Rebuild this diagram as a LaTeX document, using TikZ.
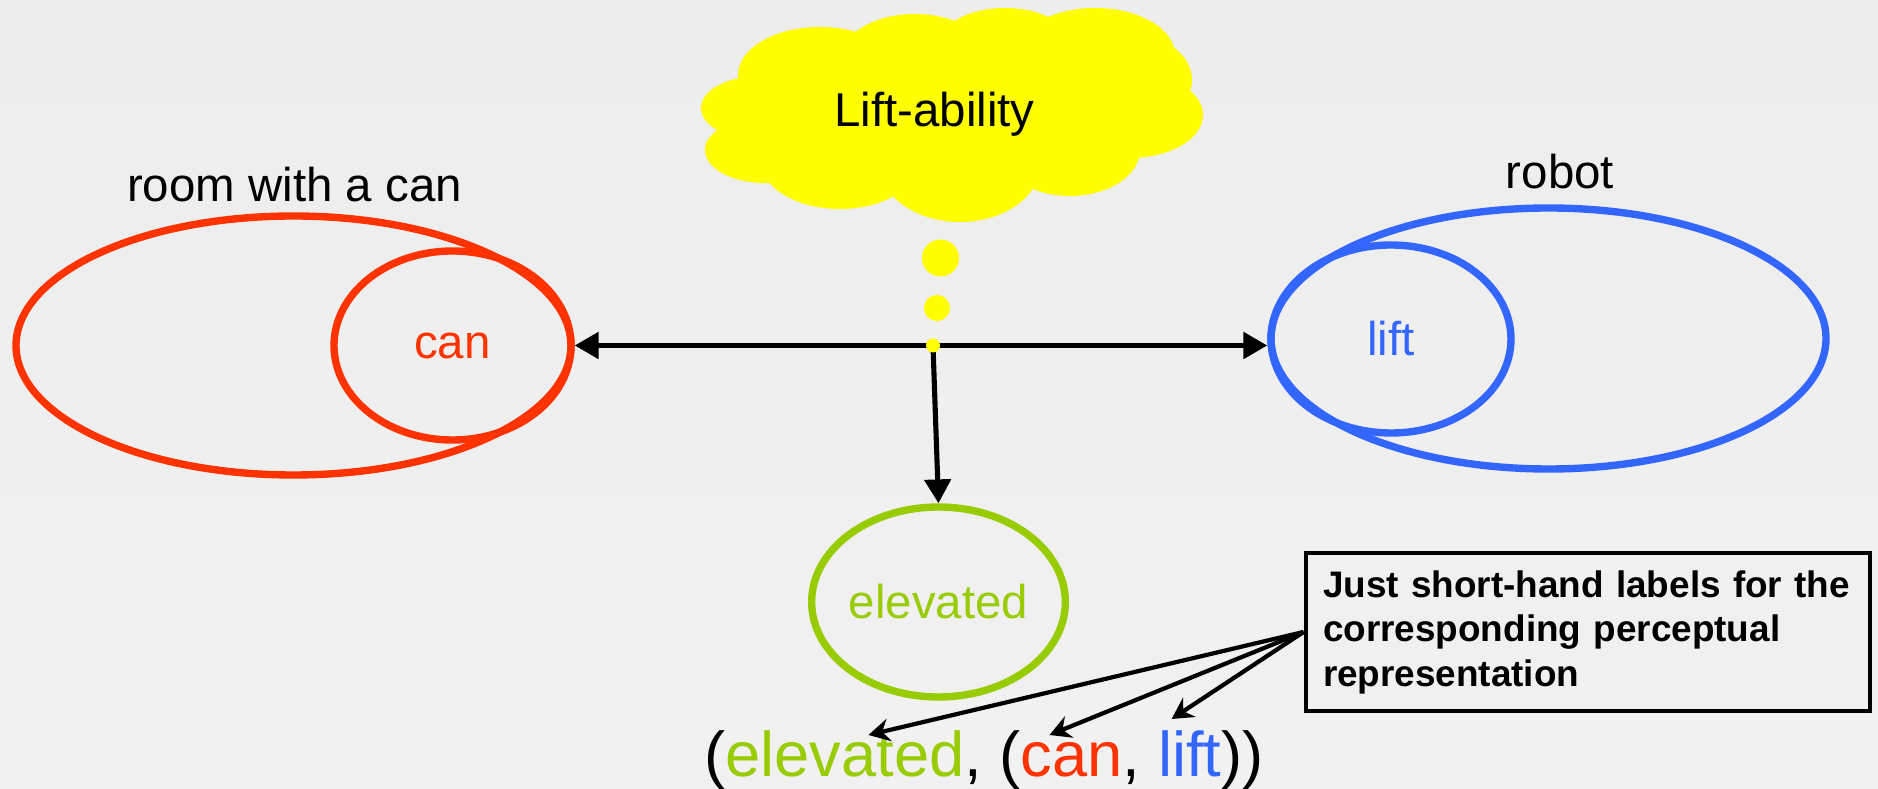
\documentclass[tikz,border=0pt]{standalone}
\usepackage{fontspec}
\setmainfont{Liberation Sans}
\usetikzlibrary{shapes.geometric,arrows.meta}

\definecolor{canred}{HTML}{FF3300}
\definecolor{liftblue}{HTML}{3366FF}
\definecolor{elevgreen}{HTML}{99CC00}
\definecolor{thought}{HTML}{FFFF00}
\definecolor{bgtop}{HTML}{EDEDED}
\definecolor{bgmid}{HTML}{E2E2E2}
\definecolor{bgbot}{HTML}{F1F1F1}

\tikzset{
  lbl/.style={font=\fontsize{13.5}{16}\selectfont},
  blob/.style={ellipse, draw, line width=2.1pt, inner sep=0pt, font=\fontsize{13.5}{16}\selectfont},
  link/.style={line width=1.45pt},
  pointer/.style={line width=1.2pt, -{Stealth[length=6pt,width=6.5pt,inset=2pt]}},
  >={Triangle[length=6.8pt,width=7.4pt]}
}

\begin{document}
\begin{tikzpicture}
    % backdrop
    \useasboundingbox (0,0) rectangle (18.78,-7.89);
    \shade[top color=bgtop, middle color=bgmid, bottom color=bgbot] (0,0) rectangle (18.78,-7.89);

    % thought cloud: a heap of overlapping puffs
    \foreach \cx/\cy/\rx/\ry in {7.60/-1.08/.59/.32, 8.20/-0.75/.82/.48, 9.15/-0.60/.75/.46,
        10.05/-0.50/.70/.42, 10.95/-0.55/.80/.47, 11.30/-0.80/.62/.46, 11.30/-1.15/.73/.43,
        10.70/-1.50/.70/.46, 9.60/-1.65/.80/.57, 8.40/-1.60/.80/.49, 7.65/-1.50/.60/.33,
        9.50/-1.12/2.0/.70}
        \fill[thought] (\cx,\cy) ellipse [x radius=\rx, y radius=\ry];
    \node[lbl, anchor=base] (ability) at (9.345,-1.27) {Lift-ability};
    \fill[thought] (9.405,-2.58) circle (0.185);
    \fill[thought] (9.37,-3.08) circle (0.13);

    % the two sets and their members
    \node[blob, canred, minimum width=5.55cm, minimum height=2.59cm] (room) at (2.935,-3.455) {};
    \node[blob, canred, minimum width=2.37cm, minimum height=1.89cm] (can) at (4.525,-3.455) {can};
    \node[blob, liftblue, minimum width=5.55cm, minimum height=2.61cm] (robot) at (15.485,-3.385) {};
    \node[blob, liftblue, minimum width=2.40cm, minimum height=1.88cm] (lift) at (13.91,-3.39) {lift};
    \node[lbl, anchor=base] (roomname) at (2.945,-2.02) {room with a can};
    \node[lbl, anchor=base] (robotname) at (15.6,-1.89) {robot};

    % outcome
    \node[blob, elevgreen, minimum width=2.35cm, minimum height=1.90cm] (elevated) at (9.385,-6.02) {elevated};

    \coordinate (hub) at (9.33,-3.455);
    \draw[link, <->] (can.east) -- (can.east -| lift.west);
    \draw[link, ->] (hub) -- (elevated.north);
    \fill[thought] (hub) circle (0.07);

    % symbolic form
    \node[anchor=base, font=\fontsize{18}{20}\selectfont] (tuple) at (9.84,-7.77)
        {(\textcolor{elevgreen}{elevated}, (\textcolor{canred}{can}, \textcolor{liftblue}{lift}))};
    \coordinate (atElevated) at (8.685,-7.35);
    \coordinate (atCan) at (10.495,-7.35);
    \coordinate (atLift) at (11.716,-7.19);

    \node[draw, line width=1.4pt, minimum width=5.64cm, minimum height=1.58cm, text width=5.3cm,
        align=left, inner xsep=0.17cm, font=\fontsize{10.5}{12.66}\selectfont\bfseries] (note) at (15.88,-6.32)
        {Just short-hand labels for the\\corresponding perceptual\\representation};
    \foreach \t in {atElevated,atCan,atLift}
        \draw[pointer] (note.west) -- (\t);
\end{tikzpicture}
\end{document}
